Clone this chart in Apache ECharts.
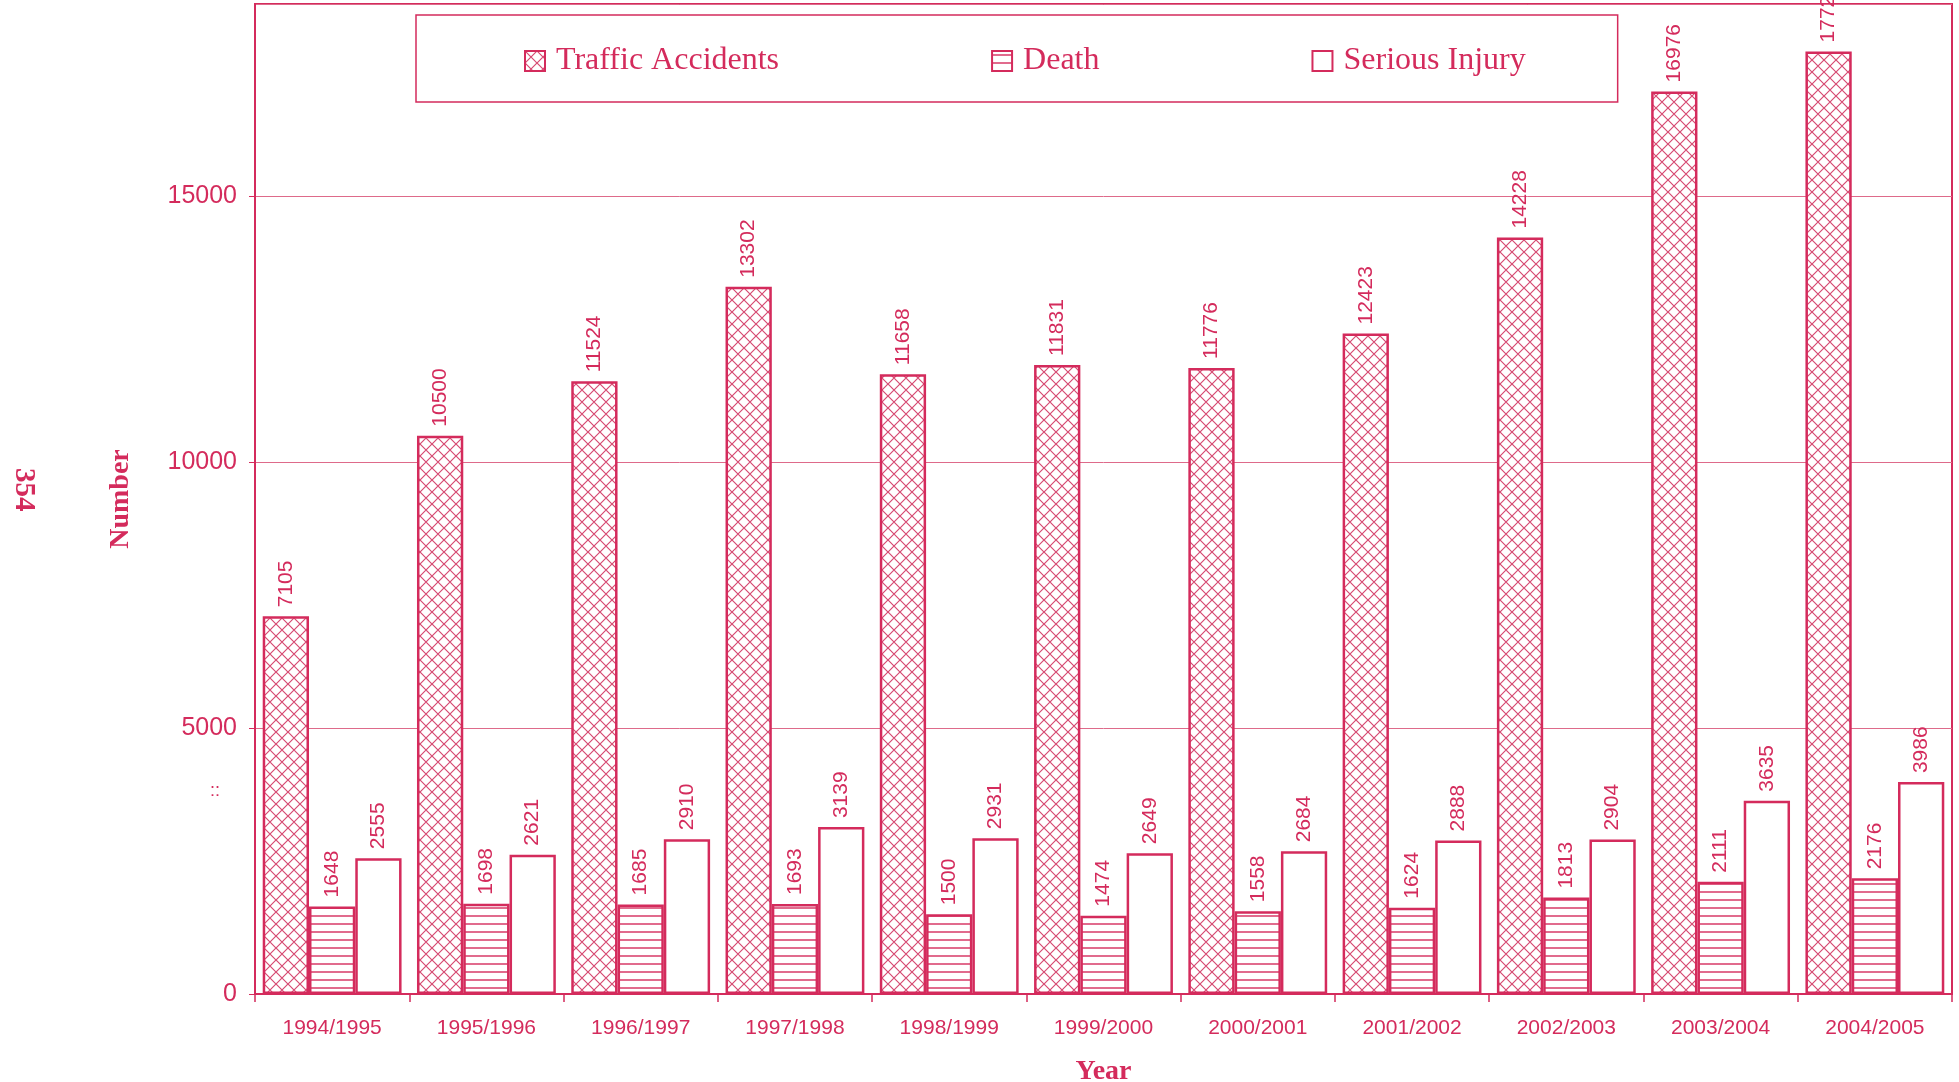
<!DOCTYPE html>
<html><head><meta charset="utf-8">
<script src="https://cdn.jsdelivr.net/npm/echarts@6/dist/echarts.min.js"></script>
<style>html,body{margin:0;padding:0;background:#fff}#c{width:1959px;height:1082px}</style>
</head><body><div id="c"></div>
<script>
const categories = ['1994/1995','1995/1996','1996/1997','1997/1998','1998/1999','1999/2000','2000/2001','2001/2002','2002/2003','2003/2004','2004/2005'];
const trafficAccidents = [7105,10500,11524,13302,11658,11831,11776,12423,14228,16976,17727];
const death = [1648,1698,1685,1693,1500,1474,1558,1624,1813,2111,2176];
const seriousInjury = [2555,2621,2910,3139,2931,2649,2684,2888,2904,3635,3986];
const yTicks = [0,5000,10000,15000];

const C = '#d42b5c';
function crossPattern(){
  const s=12, c=document.createElement('canvas'); c.width=s; c.height=s;
  const x=c.getContext('2d'); x.fillStyle='#fff'; x.fillRect(0,0,s,s);
  x.strokeStyle='#d64a72'; x.lineWidth=1.2;
  x.beginPath(); x.moveTo(-1,-1); x.lineTo(s+1,s+1); x.moveTo(s+1,-1); x.lineTo(-1,s+1); x.stroke();
  return c;
}
function hPattern(){
  const s=8, c=document.createElement('canvas'); c.width=s; c.height=s;
  const x=c.getContext('2d'); x.fillStyle='#fff'; x.fillRect(0,0,s,s);
  x.strokeStyle=C; x.lineWidth=1.4;
  x.beginPath(); x.moveTo(0,4); x.lineTo(s,4); x.stroke();
  return c;
}
const chart = echarts.init(document.getElementById('c'), null, {renderer:'canvas'});
const lbl = {show:true, position:'top', rotate:90, align:'left', verticalAlign:'middle', distance:9,
  color:C, fontFamily:'Liberation Sans', fontSize:21};
function mk(name, data, fill){
  return {name, type:'bar', data, barGap:'0%', barCategoryGap:'10%',
    itemStyle:{color:fill, borderColor:C, borderWidth:2.5}, label:lbl, emphasis:{disabled:true}};
}
chart.setOption({
  animation:false,
  textStyle:{fontFamily:'Liberation Sans', color:C},
  grid:{left:255, right:7, top:4, bottom:88, show:true, borderColor:C, borderWidth:2,
    containLabel:false, outerBoundsMode:'none'},
  legend:{left:416, top:15, padding:[30,92,25,108], itemGap:212, itemWidth:20, itemHeight:20,
    icon:'rect', borderColor:C, borderWidth:1.5, selectedMode:false,
    textStyle:{fontFamily:'Liberation Serif', fontSize:32, color:C, padding:[0,0,0,6]},
    data:['Traffic Accidents','Death','Serious Injury']},
  xAxis:{type:'category', data:categories,
    axisLine:{lineStyle:{color:C, width:2}},
    axisTick:{show:true, length:8, lineStyle:{color:C, width:1.5}},
    axisLabel:{color:C, fontSize:21, margin:24, fontFamily:'Liberation Sans'},
    name:'Year', nameLocation:'middle', nameGap:64,
    nameTextStyle:{fontFamily:'Liberation Serif', fontWeight:'bold', fontSize:28, color:C}},
  yAxis:{type:'value', min:0, max:18620, interval:5000,
    axisLine:{show:true, lineStyle:{color:C, width:2}},
    axisTick:{show:true, length:6, lineStyle:{color:C}},
    axisLabel:{color:C, fontSize:25, margin:18, fontFamily:'Liberation Sans', showMaxLabel:false,
      formatter:v=>yTicks.includes(v)?String(v):''},
    splitLine:{show:true, lineStyle:{color:'#de6a8a', width:1}},
    name:'Number', nameLocation:'middle', nameGap:120,
    nameTextStyle:{fontFamily:'Liberation Serif', fontWeight:'bold', fontSize:28, color:C}},
  series:[
    mk('Traffic Accidents', trafficAccidents, {image:crossPattern(), repeat:'repeat'}),
    mk('Death', death, {image:hPattern(), repeat:'repeat'}),
    mk('Serious Injury', seriousInjury, '#fff')
  ],
  graphic:[
    {type:'text', left:9, top:468, rotation:-Math.PI/2, originX:0, originY:0,
     style:{text:'354', fill:C, font:'bold 29px "Liberation Serif"'}},
    {type:'text', left:210, top:782, style:{text:'::', fill:C, font:'18px "Liberation Sans"'}}
  ]
});
</script></body></html>
